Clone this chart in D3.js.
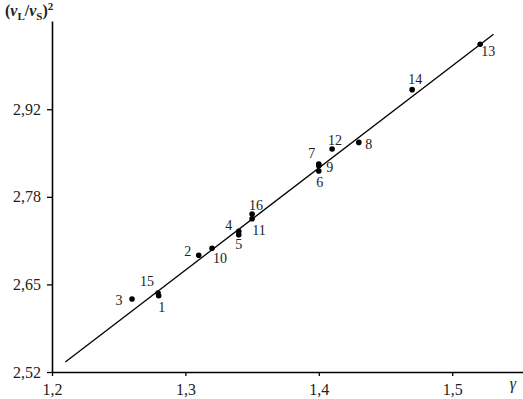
<!DOCTYPE html>
<html>
<head>
<meta charset="utf-8">
<script src="https://cdn.jsdelivr.net/npm/d3@7"></script>
<style>
  body { margin: 0; background: #fff; }
  text { font-family: "Liberation Serif", "DejaVu Serif", serif; fill: #222; }
</style>
</head>
<body>
<script>
// sample numbers and measured values
var ids    = [1, 2, 3, 4, 5, 6, 7, 8, 9, 10, 11, 12, 13, 14, 15, 16];
var gammas = [1.280, 1.310, 1.260, 1.340, 1.340, 1.400, 1.400, 1.430, 1.400, 1.320, 1.350, 1.410, 1.521, 1.470, 1.2795, 1.350];
var ratios = [2.635, 2.696, 2.630, 2.732, 2.727, 2.823, 2.8335, 2.866, 2.831, 2.7065, 2.751, 2.856, 3.014, 2.9455, 2.639, 2.758];
// label offsets from the dot (dx, dy of baseline)
var labelDx = [3, -11, -13, -10, 0, 1, -7, 10, 11, 8, 7, 3, 8, 3, -11, 4];
var labelDy = [16, 1, 6, -1, 14, 16, -6, 7, 6, 15, 16, -4, 12, -6, -7, -4];

// regression line end points
var fitX = [1.21, 1.531];
var fitY = [2.535, 3.029];

var xTicks = [1.2, 1.3, 1.4, 1.5];
var yTicks = [2.52, 2.652, 2.784, 2.916];

var W = 523, H = 399;
var svg = d3.select("body").append("svg").attr("width", W).attr("height", H);

var x = d3.scaleLinear().domain([1.2, 1.5531]).range([52, 523]);
var y = d3.scaleLinear().domain([2.52, 3.049]).range([372, 21]);

var comma = function(d, n) { return d3.format("." + n + "f")(d).replace(".", ","); };

var xAxis = svg.append("g").attr("transform", "translate(0,372)")
  .call(d3.axisBottom(x).tickValues(xTicks).tickSizeInner(4).tickSizeOuter(0).tickPadding(8)
    .tickFormat(function(d){ return comma(d, 1); }));
var yAxis = svg.append("g").attr("transform", "translate(52,0)")
  .call(d3.axisLeft(y).tickValues(yTicks).tickSizeInner(5).tickSizeOuter(0).tickPadding(6)
    .tickFormat(function(d){ return comma(d, 2); }));

[xAxis, yAxis].forEach(function(g){
  g.select(".domain").attr("stroke", "#000").attr("stroke-width", 1.6);
  g.selectAll(".tick line").attr("stroke", "#000").attr("stroke-width", 1.3);
  g.selectAll(".tick text").attr("font-size", 16).attr("fill", "#333")
    .style("font-family", "'Liberation Serif', serif");
});

// fitted line
svg.append("line")
  .attr("x1", x(fitX[0])).attr("y1", y(fitY[0]))
  .attr("x2", x(fitX[1])).attr("y2", y(fitY[1]))
  .attr("stroke", "#000").attr("stroke-width", 1.3);

// dots
svg.selectAll("circle.pt").data(ids).enter().append("circle")
  .attr("class", "pt")
  .attr("cx", function(d, i){ return x(gammas[i]); })
  .attr("cy", function(d, i){ return y(ratios[i]); })
  .attr("r", 2.8).attr("fill", "#000");

svg.selectAll("text.lbl").data(ids).enter().append("text")
  .attr("class", "lbl")
  .attr("x", function(d, i){ return x(gammas[i]) + labelDx[i]; })
  .attr("y", function(d, i){ return y(ratios[i]) + labelDy[i]; })
  .attr("text-anchor", "middle")
  .attr("font-size", 14)
  .text(function(d){ return d; });

// axis titles
var t = svg.append("text").attr("x", 5).attr("y", 16).attr("font-size", 16).attr("font-weight", "bold");
t.append("tspan").text("(");
t.append("tspan").attr("font-style", "italic").text("v");
t.append("tspan").attr("font-size", 11).attr("dy", 4).text("L");
t.append("tspan").attr("dy", -4).text("/");
t.append("tspan").attr("font-style", "italic").text("v");
t.append("tspan").attr("font-size", 11).attr("dy", 4).text("S");
t.append("tspan").attr("dy", -4).text(")");
t.append("tspan").attr("font-size", 11).attr("dy", -6).text("2");

svg.append("text").attr("x", 513).attr("y", 389).attr("text-anchor", "middle")
  .attr("font-size", 16).attr("font-style", "italic").text("γ");
</script>
</body>
</html>
